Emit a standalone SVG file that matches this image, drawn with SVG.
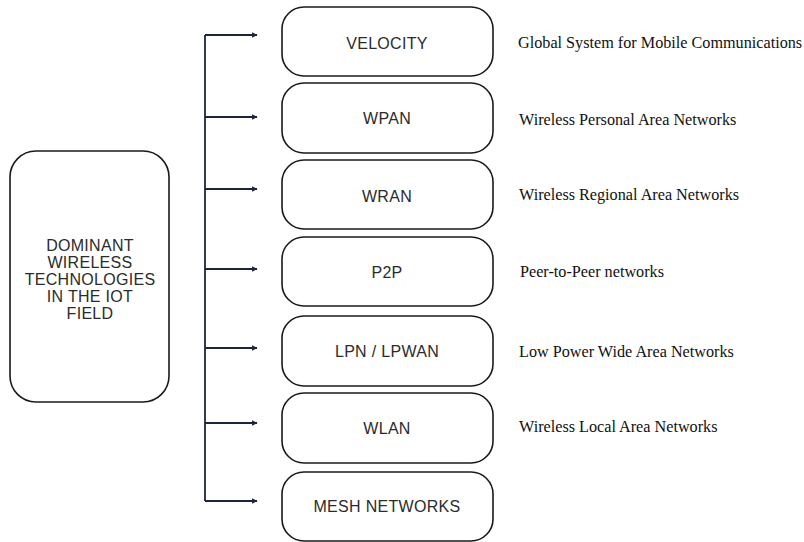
<svg xmlns="http://www.w3.org/2000/svg" width="804" height="542" viewBox="0 0 804 542">
  <style>
    .box { fill: #ffffff; stroke: #1a1a1a; stroke-width: 1.6; }
    .lbl { font-family: "Liberation Sans", Arial, sans-serif; font-size: 16px; fill: #2b2b2b; text-anchor: middle; dominant-baseline: central; letter-spacing: 0.3px; }
    .desc { font-family: "Liberation Serif", "Times New Roman", serif; font-size: 16.2px; fill: #111111; dominant-baseline: central; }
    .wire { fill: none; stroke: #1c2540; stroke-width: 1.8; }
  </style>
  <defs>
    <marker id="arrow" viewBox="0 0 10 10" refX="9" refY="5" markerWidth="6" markerHeight="6" markerUnits="userSpaceOnUse" orient="auto">
      <path d="M0,0 L10,5 L0,10 z" fill="#1c2540"/>
    </marker>
  </defs>
  <rect width="804" height="542" fill="#ffffff"/>

  <!-- root node -->
  <g id="root">
    <rect class="box" x="10" y="151" width="159" height="251" rx="26"/>
    <text class="lbl" x="90" y="245">DOMINANT</text>
    <text class="lbl" x="90" y="262">WIRELESS</text>
    <text class="lbl" x="90" y="279">TECHNOLOGIES</text>
    <text class="lbl" x="90" y="296">IN THE IOT</text>
    <text class="lbl" x="90" y="313">FIELD</text>
  </g>

  <!-- connectors: vertical spine with one branch per technology -->
  <g id="connectors">
    <path class="wire" d="M205,35 V501"/>
    <path class="wire" d="M205,35 H257" marker-end="url(#arrow)"/>
    <path class="wire" d="M205,117 H257" marker-end="url(#arrow)"/>
    <path class="wire" d="M205,189 H257" marker-end="url(#arrow)"/>
    <path class="wire" d="M205,269 H257" marker-end="url(#arrow)"/>
    <path class="wire" d="M205,348 H257" marker-end="url(#arrow)"/>
    <path class="wire" d="M205,423 H257" marker-end="url(#arrow)"/>
    <path class="wire" d="M205,501 H257" marker-end="url(#arrow)"/>
  </g>

  <!-- technology nodes -->
  <g id="velocity">
    <rect class="box" x="282" y="7" width="211" height="69" rx="22"/>
    <text class="lbl" x="387" y="43">VELOCITY</text>
    <text class="desc" x="518" y="43">Global System for Mobile Communications</text>
  </g>
  <g id="wpan">
    <rect class="box" x="282" y="83" width="211" height="70" rx="22"/>
    <text class="lbl" x="387" y="118">WPAN</text>
    <text class="desc" x="519" y="120">Wireless Personal Area Networks</text>
  </g>
  <g id="wran">
    <rect class="box" x="282" y="160" width="211" height="69" rx="22"/>
    <text class="lbl" x="387" y="196">WRAN</text>
    <text class="desc" x="519" y="195">Wireless Regional Area Networks</text>
  </g>
  <g id="p2p">
    <rect class="box" x="282" y="237" width="211" height="69" rx="22"/>
    <text class="lbl" x="387" y="272">P2P</text>
    <text class="desc" x="520" y="272">Peer-to-Peer networks</text>
  </g>
  <g id="lpwan">
    <rect class="box" x="282" y="316" width="211" height="70" rx="22"/>
    <text class="lbl" x="387" y="351">LPN / LPWAN</text>
    <text class="desc" x="519" y="352">Low Power Wide Area Networks</text>
  </g>
  <g id="wlan">
    <rect class="box" x="282" y="393" width="211" height="70" rx="22"/>
    <text class="lbl" x="387" y="428">WLAN</text>
    <text class="desc" x="519" y="427">Wireless Local Area Networks</text>
  </g>
  <g id="mesh">
    <rect class="box" x="282" y="472" width="211" height="69" rx="22"/>
    <text class="lbl" x="387" y="506">MESH NETWORKS</text>
  </g>
</svg>
